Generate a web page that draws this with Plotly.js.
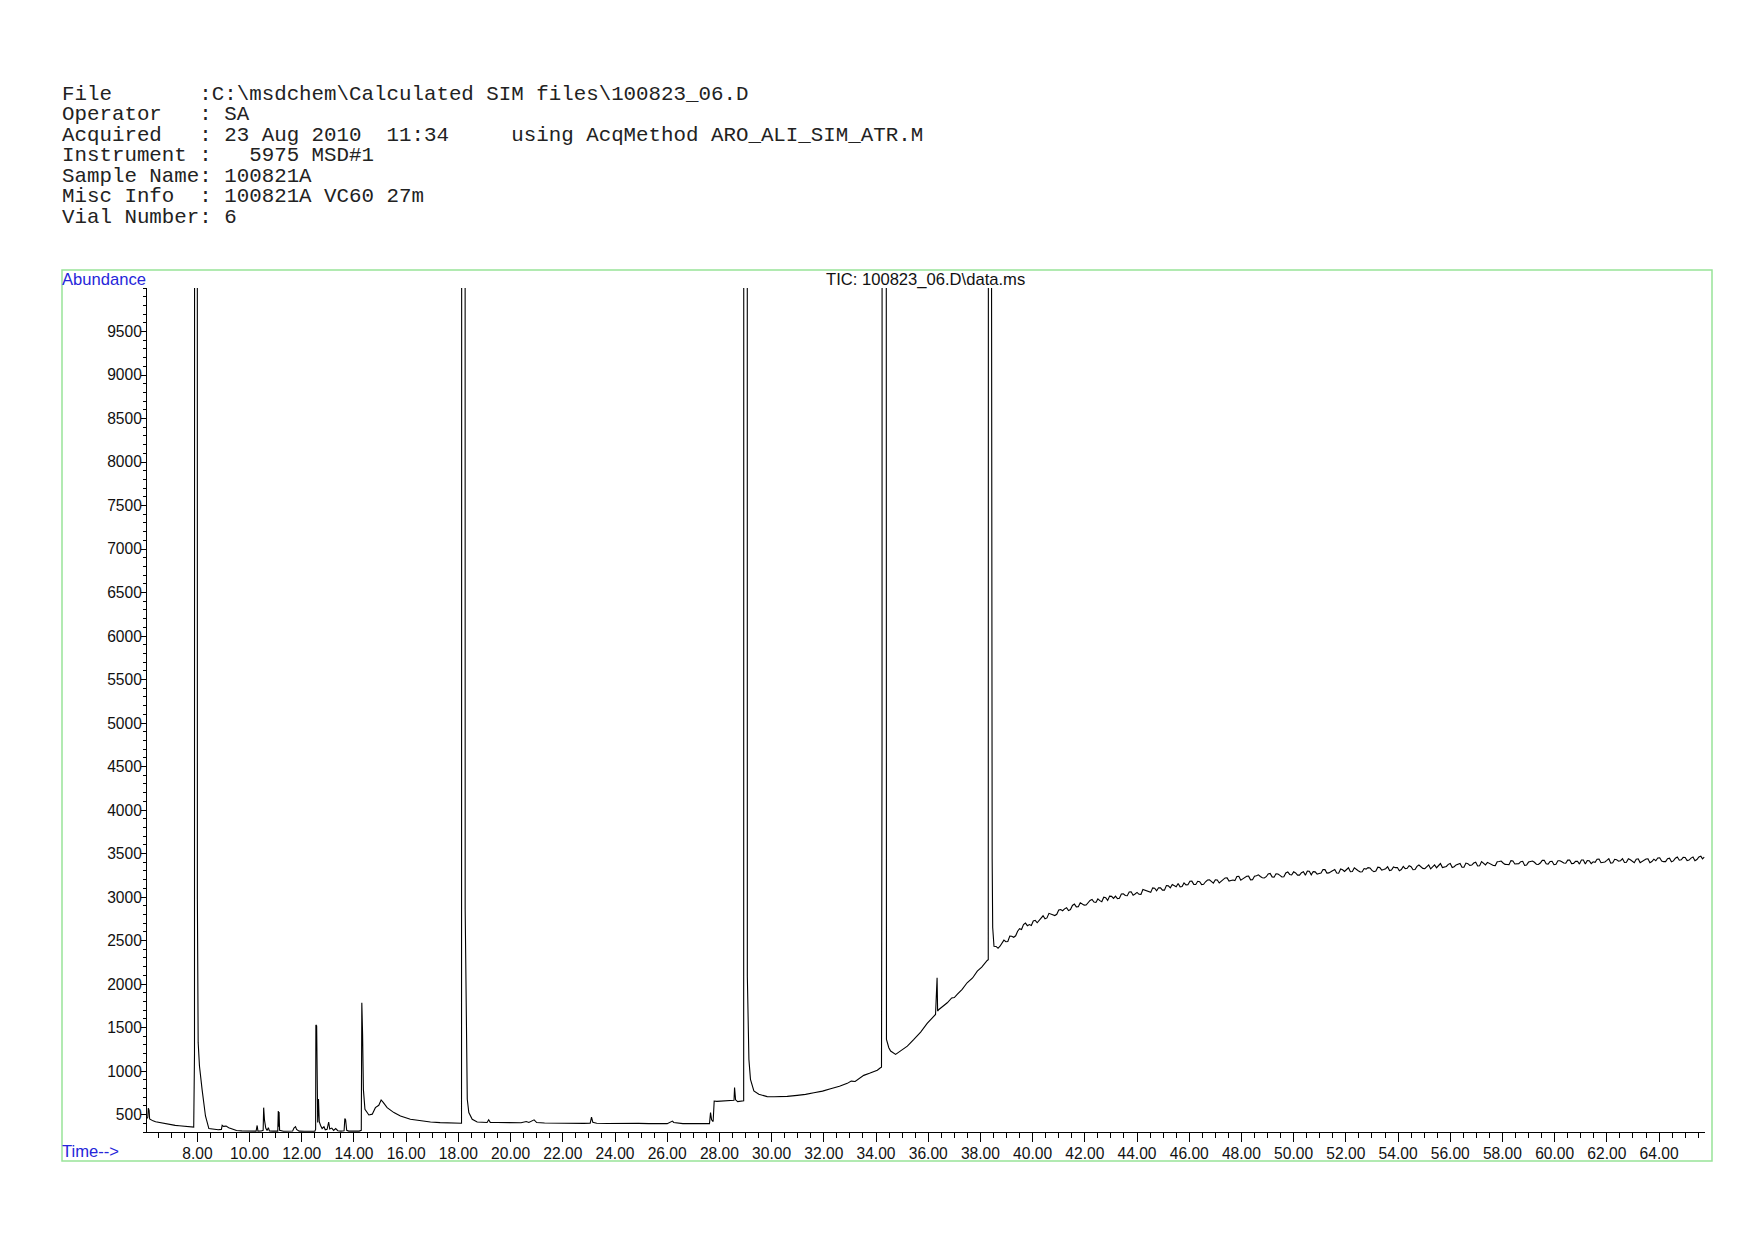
<!DOCTYPE html>
<html><head><meta charset="utf-8">
<script src="https://cdn.plot.ly/plotly-3.0.1.min.js"></script>
<style>html,body{margin:0;padding:0;background:#fff;} #chart{width:1754px;height:1240px;}</style>
</head><body><div id="chart"></div>
<script>
// ---------- header text ----------
const headerLines = [
  "File       :C:\\msdchem\\Calculated SIM files\\100823_06.D",
  "Operator   : SA",
  "Acquired   : 23 Aug 2010  11:34     using AcqMethod ARO_ALI_SIM_ATR.M",
  "Instrument :   5975 MSD#1",
  "Sample Name: 100821A",
  "Misc Info  : 100821A VC60 27m",
  "Vial Number: 6"
];
const chartTitle = "TIC: 100823_06.D\\data.ms";
const yLabel = "Abundance";
const xLabel = "Time-->";

// ---------- data (time in min, abundance) ----------
const timeEarly = [6.07,6.10,6.12,6.15,6.17,6.22,6.30,6.40,6.55,6.70,6.85,7.00,7.15,7.30,7.45,7.60,7.75,7.86,
  7.89,7.90,7.99,7.995,7.997,8.00,8.03,8.05,8.08,8.18,8.31,8.44,8.60,8.80,8.92,8.95,9.00,9.10,9.20,9.30,9.50,9.70,9.90,
  10.10,10.25,10.29,10.32,10.45,10.52,10.54,10.57,10.62,10.67,10.72,10.76,10.90,11.08,11.10,11.12,11.13,11.15,11.30,11.50,
  11.65,11.70,11.76,11.80,11.90,12.10,12.30,12.50,12.53,12.54,12.57,12.59,12.61,12.64,12.67,12.72,12.78,12.85,12.90,12.97,
  13.03,13.07,13.15,13.22,13.30,13.38,13.50,13.62,13.65,13.68,13.72,13.80,14.00,14.20,14.28,14.30,14.33,14.36,14.42,14.57,
  14.70,14.82,14.95,15.04,15.12,15.27,15.53,15.78,16.16,16.55,16.93,17.30,17.70,18.12,18.14,18.25,18.26,18.29,18.34,18.40,
  18.53,18.72];
const abundEarly = [455,470,575,548,450,440,428,418,408,398,390,382,376,371,366,362,358,356,
  1198,40000,40000,4833,9000,2975,1330,1200,1058,790,484,339,330,325,330,377,365,368,350,340,318,313,310,
  309,310,375,310,312,320,580,440,345,318,350,312,310,310,540,360,530,320,308,310,
  312,345,362,330,310,308,305,310,330,1530,1520,960,410,680,420,375,340,360,325,330,
  415,335,345,318,340,315,310,315,455,440,320,310,312,310,320,1785,1420,790,561,496,
  505,580,607,668,640,580,523,484,446,427,415,408,403,400,40000,40000,2860,1708,676,523,
  446,415];

const timeMid = [18.90,19.10,19.16,19.22,19.50,19.80,20.10,20.40,20.60,20.70,20.90,21.00,21.30,21.60,22.00,22.40,22.80,
  23.05,23.10,23.15,23.30,23.70,24.10,24.50,24.90,25.30,25.70,26.00,26.20,26.25,26.60,27.00,27.30,27.62,27.66,27.70,27.76,
  27.80,27.90,28.10,28.30,28.50,28.56,28.58,28.62,28.70,28.85,28.93,28.94,29.06,29.07,29.13,29.19,29.32,29.51,29.83,30.10,
  30.34,30.60,30.98,31.30,31.62,31.95,32.26,32.60,32.90,33.05,33.20,33.53,33.75,33.92,34.05,34.17,34.21,34.23,34.245,34.37,
  34.38,34.40,34.49,34.56,34.75,34.94,35.20,35.45,35.71,35.96,36.10,36.28,36.34,36.36,36.41,36.73,36.90,37.00,37.11,37.30,
  37.49,37.70,37.88,38.05,38.26,38.30,38.32,38.40,38.41,38.43,38.45,38.47,38.49,38.52];
const abundMid = [412,409,440,411,410,407,405,406,420,410,440,409,404,402,400,401,399,
  402,470,412,401,398,400,397,399,396,398,396,425,410,396,394,395,396,523,440,420,
  656,652,655,658,660,665,810,670,650,655,660,40000,40000,2090,1135,905,771,733,707,705,
  704,710,721,732,752,770,798,825,859,885,880,951,975,993,1010,1039,1045,4735,40000,40000,
  5064,1364,1269,1230,1192,1230,1287,1364,1448,1548,1590,1651,2072,1690,1708,1785,1840,1845,1881,1940,
  2015,2070,2148,2195,2271,2280,40000,40000,7722,4405,3441,2650,2473,2435];

// late baseline, read at 0.15-min steps
const timeLate = [38.60,38.75,38.90,39.05,39.20,39.35,39.50,39.65,39.80,39.95,40.10,40.25,40.40,40.55,40.70,40.85,41.00,41.15,
  41.30,41.45,41.60,41.75,41.90,42.05,42.20,42.35,42.50,42.65,42.80,42.95,43.10,43.25,43.40,43.55,43.70,43.85,44.00,44.15,
  44.30,44.45,44.60,44.75,44.90,45.05,45.20,45.35,45.50,45.65,45.80,45.95,46.10,46.25,46.40,46.55,46.70,46.85,47.00,47.15,
  47.30,47.45,47.60,47.75,47.90,48.05,48.20,48.35,48.50,48.65,48.80,48.95,49.10,49.25,49.40,49.55,49.70,49.85,50.00,50.15,
  50.30,50.45,50.60,50.75,50.90,51.05,51.20,51.35,51.50,51.65,51.80,51.95,52.10,52.25,52.40,52.55,52.70,52.85,53.00,53.15,
  53.30,53.45,53.60,53.75,53.90,54.05,54.20,54.35,54.50,54.65,54.80,54.95,55.10,55.25,55.40,55.55,55.70,55.85,56.00,56.15,
  56.30,56.45,56.60,56.75,56.90,57.05,57.20,57.35,57.50,57.65,57.80,57.95,58.10,58.25,58.40,58.55,58.70,58.85,59.00,59.15,
  59.30,59.45,59.60,59.75,59.90,60.05,60.20,60.35,60.50,60.65,60.80,60.95,61.10,61.25,61.40,61.55,61.70,61.85,62.00,62.15,
  62.30,62.45,62.60,62.75,62.90,63.05,63.20,63.35,63.50,63.65,63.80,63.95,64.10,64.25,64.40,64.55,64.70,64.85,65.00,65.15,
  65.30,65.45,65.60,65.73];
const abundLate = [2433,2435,2505,2490,2550,2555,2636,2683,2671,2674,2733,2733,2785,2760,2805,2788,2852,2843,
  2878,2856,2919,2890,2921,2909,2962,2942,2979,2946,2993,3011,2985,2983,3036,3018,3058,3022,3054,3031,
  3078,3061,3106,3071,3106,3080,3129,3144,3118,3117,3163,3142,3183,3145,3176,3147,3196,3175,3199,3162,
  3200,3221,3191,3189,3238,3209,3239,3198,3239,3255,3222,3234,3272,3228,3265,3231,3278,3260,3290,3252,
  3280,3250,3296,3293,3263,3277,3315,3278,3303,3276,3322,3294,3337,3293,3316,3288,3328,3338,3306,3299,
  3339,3316,3349,3310,3338,3303,3353,3330,3349,3317,3368,3330,3353,3324,3370,3366,3339,3352,3386,3349,
  3377,3343,3391,3364,3391,3357,3408,3370,3388,3363,3405,3414,3376,3373,3414,3385,3407,3364,3402,3414,
  3378,3391,3423,3379,3411,3376,3418,3392,3425,3385,3410,3379,3426,3420,3385,3400,3437,3397,3422,3390,
  3434,3413,3441,3400,3429,3395,3440,3412,3437,3395,3436,3449,3415,3407,3447,3416,3460,3428,3455,3425,
  3460,3432,3470,3459];

// late baseline, in-between scans
const timeLateB = [38.675,38.825,38.975,39.125,39.275,39.425,39.575,39.725,39.875,40.025,40.175,40.325,40.475,40.625,40.775,
  40.925,41.075,41.225,41.375,41.525,41.675,41.825,41.975,42.125,42.275,42.425,42.575,42.725,42.875,43.025,43.175,43.325,
  43.475,43.625,43.775,43.925,44.075,44.225,44.375,44.525,44.675,44.825,44.975,45.125,45.275,45.425,45.575,45.725,45.875,
  46.025,46.175,46.325,46.475,46.625,46.775,46.925,47.075,47.225,47.375,47.525,47.675,47.825,47.975,48.125,48.275,48.425,
  48.575,48.725,48.875,49.025,49.175,49.325,49.475,49.625,49.775,49.925,50.075,50.225,50.375,50.525,50.675,50.825,50.975,
  51.125,51.275,51.425,51.575,51.725,51.875,52.025,52.175,52.325,52.475,52.625,52.775,52.925,53.075,53.225,53.375,53.525,
  53.675,53.825,53.975,54.125,54.275,54.425,54.575,54.725,54.875,55.025,55.175,55.325,55.475,55.625,55.775,55.925,56.075,
  56.225,56.375,56.525,56.675,56.825,56.975,57.125,57.275,57.425,57.575,57.725,57.875,58.025,58.175,58.325,58.475,58.625,
  58.775,58.925,59.075,59.225,59.375,59.525,59.675,59.825,59.975,60.125,60.275,60.425,60.575,60.725,60.875,61.025,61.175,
  61.325,61.475,61.625,61.775,61.925,62.075,62.225,62.375,62.525,62.675,62.825,62.975,63.125,63.275,63.425,63.575,63.725,
  63.875,64.025,64.175,64.325,64.475,64.625,64.775,64.925,65.075,65.225,65.375,65.525,65.665];
const abundLateB = [2411,2476,2487,2551,2538,2608,2628,2701,2684,2726,2705,2756,2751,2813,2802,
  2802,2856,2865,2844,2904,2888,2934,2907,2936,2972,2938,2959,2999,2962,3008,3010,2986,
  3037,3016,3061,3036,3032,3087,3066,3054,3101,3107,3080,3133,3106,3132,3157,3122,3140,
  3182,3146,3181,3143,3176,3197,3161,3197,3185,3220,3184,3196,3237,3194,3229,3240,3200,
  3244,3236,3220,3266,3232,3268,3249,3234,3288,3254,3277,3252,3292,3299,3256,3290,3272,
  3316,3275,3290,3317,3274,3314,3321,3291,3336,3303,3292,3321,3334,3292,3343,3310,3326,
  3304,3346,3340,3316,3326,3361,3314,3353,3350,3326,3369,3347,3337,3385,3349,3376,3340,
  3370,3386,3343,3384,3368,3401,3359,3390,3399,3371,3362,3409,3392,3374,3419,3380,3384,
  3411,3368,3407,3400,3374,3422,3383,3409,3372,3418,3406,3389,3425,3386,3412,3426,3380,
  3418,3405,3434,3395,3404,3441,3394,3429,3418,3398,3441,3407,3435,3396,3429,3440,3409,
  3418,3451,3407,3440,3405,3446,3424,3457,3419,3448,3417,3462,3439];

// ---------- axes ----------
const xTickVals = [8,10,12,14,16,18,20,22,24,26,28,30,32,34,36,38,40,42,44,46,48,50,52,54,56,58,60,62,64];
const yTickVals = [500,1000,1500,2000,2500,3000,3500,4000,4500,5000,5500,6000,6500,7000,7500,8000,8500,9000,9500];
const xRange = [6.07, 65.76];
const yRange = [300, 10000];

// ---------- combine late scans in time order ----------
const latePairs = timeLate.map((t, i) => [t, abundLate[i]])
  .concat(timeLateB.map((t, i) => [t, abundLateB[i]]))
  .sort((a, b) => a[0] - b[0]);
const allTime = timeEarly.concat(timeMid, latePairs.map(p => p[0]));
const allAbund = abundEarly.concat(abundMid, latePairs.map(p => p[1]));

// ---------- layout helpers (pixel -> paper) ----------
const W = 1754, H = 1240, ML = 147, MR = 49, MT = 288, MB = 108;
const PW = W - ML - MR, PH = H - MT - MB;
const px = x => (x - ML) / PW;
const py = y => (H - MB - y) / PH;

const nb = s => s.replace(/ /g, '\u00A0');
const sans = "Liberation Sans, Arial, sans-serif";
const mono = "Liberation Mono, Courier New, monospace";

const annotations = headerLines.map((s, i) => ({
  text: nb(s), xref: 'paper', yref: 'paper', x: px(60), y: py(94 + 20.6 * i),
  xanchor: 'left', yanchor: 'middle', showarrow: false,
  font: {family: mono, size: 20.8, color: '#222'}
}));
annotations.push({text: yLabel, xref: 'paper', yref: 'paper', x: px(60), y: py(279),
  xanchor: 'left', yanchor: 'middle', showarrow: false, font: {family: sans, size: 16.6, color: '#2626d9'}});
annotations.push({text: xLabel, xref: 'paper', yref: 'paper', x: px(60), y: py(1151),
  xanchor: 'left', yanchor: 'middle', showarrow: false, font: {family: sans, size: 16.6, color: '#2626d9'}});
annotations.push({text: chartTitle, xref: 'paper', yref: 'paper', x: px(925), y: py(279.5),
  xanchor: 'center', yanchor: 'middle', showarrow: false, font: {family: sans, size: 16.6, color: '#111'}});

const trace = {
  x: allTime, y: allAbund,
  type: 'scatter', mode: 'lines',
  line: {color: '#000', width: 1.1},
  hoverinfo: 'skip'
};

const layout = {
  width: W, height: H,
  margin: {l: ML, r: MR, t: MT, b: MB, pad: 0},
  paper_bgcolor: '#fff', plot_bgcolor: '#fff',
  showlegend: false,
  font: {family: sans, size: 15.6, color: '#111'},
  xaxis: {
    range: xRange, tickmode: 'array', tickvals: xTickVals, tickformat: '.2f',
    ticks: 'outside', ticklen: 9, tickwidth: 1, tickcolor: '#000', ticklabelstandoff: -2,
    showline: true, linecolor: '#000', linewidth: 1, showgrid: false, zeroline: false,
    minor: {dtick: 0.5, tick0: 0, ticks: 'outside', ticklen: 5, tickwidth: 1, tickcolor: '#000', showgrid: false},
    tickfont: {family: sans, size: 15.6, color: '#111'}, fixedrange: true
  },
  yaxis: {
    range: yRange, tickmode: 'array', tickvals: yTickVals, tickformat: 'd',
    ticks: 'outside', ticklen: 5, tickwidth: 1, tickcolor: '#000', ticklabelstandoff: -4,
    showline: true, linecolor: '#000', linewidth: 1, showgrid: false, zeroline: false,
    minor: {dtick: 100, tick0: 0, ticks: 'outside', ticklen: 3, tickwidth: 1, tickcolor: '#000', showgrid: false},
    tickfont: {family: sans, size: 15.6, color: '#111'}, fixedrange: true
  },
  shapes: [{
    type: 'rect', xref: 'paper', yref: 'paper',
    x0: px(62), x1: px(1712), y0: py(1161), y1: py(270),
    line: {color: '#98e498', width: 1.5}, fillcolor: 'rgba(0,0,0,0)', layer: 'below'
  }],
  annotations: annotations
};

Plotly.newPlot('chart', [trace], layout, {staticPlot: true, displayModeBar: false});
</script>
</body></html>
